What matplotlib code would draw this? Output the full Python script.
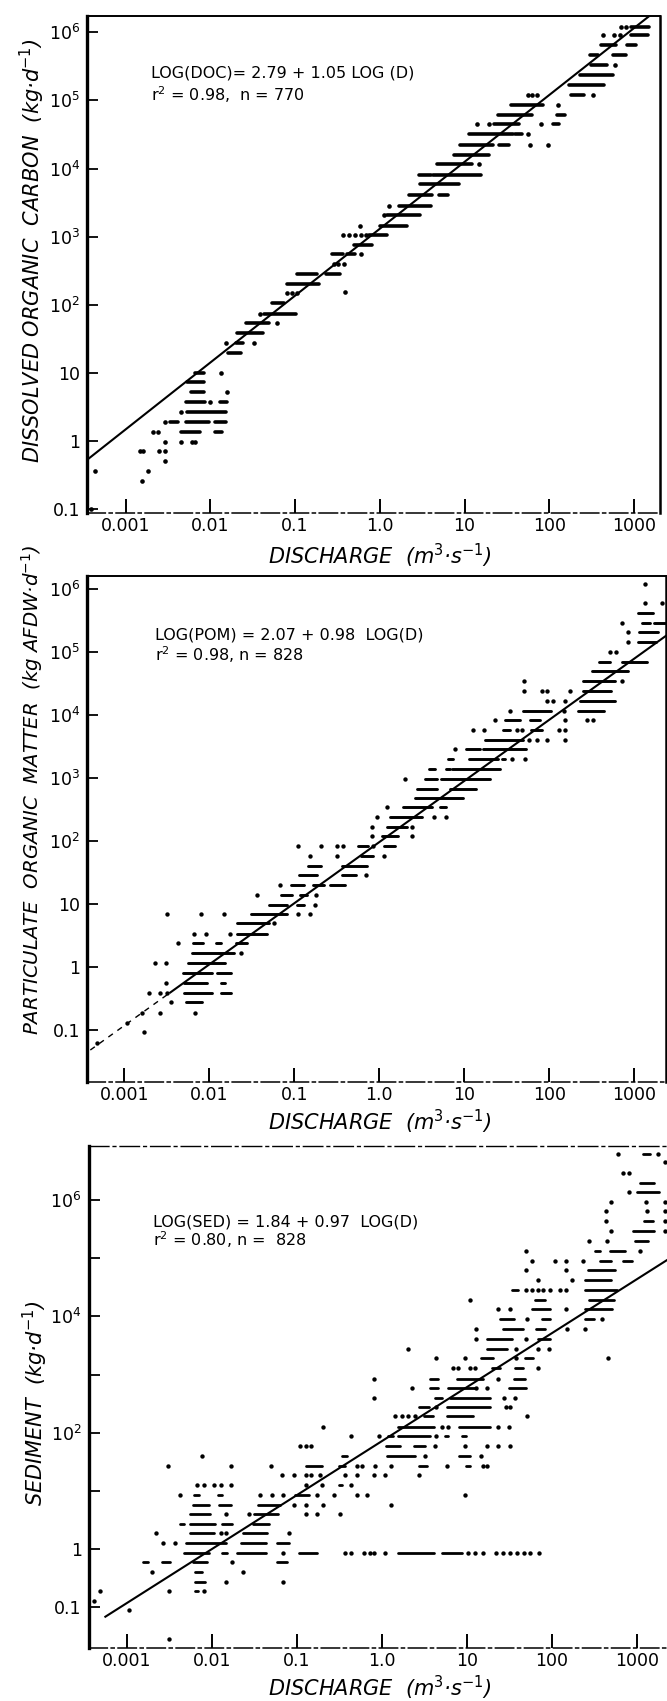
import matplotlib
matplotlib.use("Agg")
import matplotlib.pyplot as plt
import numpy as np

plt.rcParams['font.family'] = ['DejaVu Sans']
plt.rcParams['mathtext.fontset'] = 'dejavusans'

# ---------------------------------------------------------------------------
# DATA  (stored as log10 values)
# dots: one row value + list of discharges on that row
# bars: dense runs of overlapping dots (row value + (from, to) discharge)
# ---------------------------------------------------------------------------
axis_ticks_q = [1e-3, 1e-2, 1e-1, 1.0, 10.0, 100.0, 1000.0]
axis_ticklabels_q = ['0.001', '0.01', '0.1', '1.0', '10', '100', '1000']
axis_ticks_v = [0.1, 1, 10, 1e2, 1e3, 1e4, 1e5, 1e6]
axis_ticklabels_v = ['0.1', '1', '10', '10$^2$', '10$^3$', '10$^4$', '10$^5$', '10$^6$']
sed_ticklabels_v = ['0.1', '1', '', '10$^2$', '', '10$^4$', '', '10$^6$']

# ---- Panel 1 : dissolved organic carbon ----
doc_dot_log_c = [-1.00, -0.59, -0.45, -0.44, -0.29, -0.15, -0.01, 0.13, 0.27, 0.43,
                 0.575, 0.72, 1.00, 1.43, 1.73, 1.87, 2.17, 2.18, 2.60, 2.74,
                 3.03, 3.16, 3.32, 3.45, 4.06, 4.35, 4.50, 4.65, 4.94, 5.08,
                 5.52, 5.96, 6.08]
doc_dot_log_q = [[-3.41], [-2.81], [-3.36], [-2.74], [-2.54],
                 [-2.83, -2.79, -2.61, -2.54], [-2.54, -2.34, -2.22, -2.18],
                 [-2.68, -2.62], [-2.54], [-2.35],
                 [-2.00], [-1.80], [-1.87], [-1.82, -1.48], [-1.21], [-1.41],
                 [-1.09, -1.04, -0.98], [-0.41], [-0.54, -0.49, -0.42], [-0.22],
                 [-0.43, -0.36, -0.29, -0.22, -0.16], [-0.23], [0.05], [0.11], [1.17],
                 [1.77, 1.99], [1.75], [1.15, 1.29, 1.90], [2.10],
                 [1.75, 1.80, 1.86, 2.52], [2.77], [2.63, 2.76, 2.83], [2.84, 2.90]]
doc_bar_log_c = [0.135, 0.27, 0.43, 0.575, 0.72, 0.86, 1.00, 1.285, 1.43, 1.58,
                 1.73, 1.87, 2.02, 2.30, 2.45, 2.74, 2.88, 3.03, 3.16, 3.32,
                 3.45, 3.61, 3.77, 3.91, 4.06, 4.20, 4.35, 4.50, 4.65, 4.79,
                 4.94, 5.08, 5.23, 5.38, 5.52, 5.66, 5.81, 5.96, 6.08]
doc_bar_log_q = [
    [(-2.35, -2.12), (-1.94, -1.86)],
    [(-2.48, -2.38), (-2.29, -2.02), (-1.94, -1.82)],
    [(-2.28, -1.81)],
    [(-2.29, -2.06), (-1.88, -1.80)],
    [(-2.23, -2.07)],
    [(-2.28, -2.07)],
    [(-2.18, -2.07)],
    [(-1.79, -1.64)],
    [(-1.70, -1.62)],
    [(-1.69, -1.38)],
    [(-1.58, -1.31)],
    [(-1.37, -0.99)],
    [(-1.27, -1.13)],
    [(-1.09, -0.72)],
    [(-0.98, -0.74), (-0.64, -0.47)],
    [(-0.56, -0.44), (-0.39, -0.29)],
    [(-0.30, -0.09)],
    [(-0.13, 0.09)],
    [(0.00, 0.32)],
    [(0.09, 0.47)],
    [(0.23, 0.60)],
    [(0.35, 0.62), (0.70, 0.80)],
    [(0.47, 0.93)],
    [(0.46, 0.60), (0.63, 1.19)],
    [(0.68, 1.09)],
    [(0.87, 1.29)],
    [(0.95, 1.33), (1.41, 1.53)],
    [(1.05, 1.57), (1.60, 1.68)],
    [(1.35, 1.64), (2.04, 2.12)],
    [(1.39, 1.80), (2.09, 2.18)],
    [(1.55, 1.92)],
    [(2.25, 2.41)],
    [(2.23, 2.65)],
    [(2.36, 2.75)],
    [(2.49, 2.68)],
    [(2.48, 2.57), (2.75, 2.90)],
    [(2.61, 2.79), (2.92, 3.02)],
    [(2.96, 3.17)],
    [(2.96, 3.18)],
]
doc_fit_log_q = [-3.455, 3.18]
doc_fit_log_c = [-0.28, 6.24]
doc_eq_text = ['LOG(DOC)= 2.79 + 1.05 LOG (D)', 'r$^2$ = 0.98,  n = 770']

# ---- Panel 2 : particulate organic matter ----
pom_dot_log_m = [-1.20, -1.03, -0.88, -0.725, -0.56, -0.41, -0.25, 0.07, 0.23, 0.385,
                 0.53, 0.69, 0.835, 0.99, 1.14, 1.295, 1.454, 1.76, 1.92, 2.07,
                 2.22, 2.38, 2.53, 2.985, 3.30, 3.45, 3.60, 3.76, 3.91, 4.06,
                 4.22, 4.375, 4.53, 4.99, 5.15, 5.31, 5.46, 5.77, 6.07]
pom_dot_log_q = [[-3.32], [-2.77], [-2.97], [-2.79, -2.58, -2.17], [-2.45],
                 [-2.71, -2.58, -2.50], [-2.51], [-2.64, -2.51], [-1.63], [-2.37],
                 [-2.18, -2.04, -1.76], [-1.24], [-2.50, -2.10, -1.83, -0.96, -0.82],
                 [-0.76], [-1.44, -0.75], [-1.17], [-0.16], [-0.82, -0.50, 0.05],
                 [-0.96, -0.69, -0.50, -0.43, -0.07], [-0.09, 0.38],
                 [-0.09, 0.38], [-0.03, 0.64, 0.78], [0.09], [0.30], [1.56, 1.71],
                 [0.89], [1.76, 1.85, 1.97, 2.18], [1.10, 1.23, 1.62, 1.68, 2.11, 2.18],
                 [1.36, 2.18, 2.44, 2.51], [1.54, 2.17],
                 [1.97, 2.04, 2.18], [1.70, 1.91, 1.97, 2.24], [1.70, 2.85],
                 [2.71, 2.79], [2.93], [2.93], [2.85], [3.13, 3.33], [3.13]]
pom_bar_log_m = [-0.56, -0.41, -0.25, -0.09, 0.07, 0.23, 0.385, 0.53, 0.69, 0.835,
                 0.99, 1.14, 1.295, 1.454, 1.60, 1.76, 1.92, 2.07, 2.22, 2.38,
                 2.53, 2.68, 2.83, 2.985, 3.14, 3.30, 3.45, 3.60, 3.76, 3.91,
                 4.06, 4.22, 4.375, 4.53, 4.69, 4.835, 5.15, 5.31, 5.46, 5.61]
pom_bar_log_q = [
    [(-2.27, -2.09)],
    [(-2.30, -1.97), (-1.86, -1.75)],
    [(-2.30, -2.03), (-1.86, -1.81)],
    [(-2.31, -1.97), (-1.91, -1.75)],
    [(-2.25, -1.81)],
    [(-2.20, -1.71)],
    [(-2.19, -2.07), (-1.92, -1.86), (-1.69, -1.56)],
    [(-1.68, -1.32)],
    [(-1.67, -1.30)],
    [(-1.51, -1.09)],
    [(-1.30, -1.09), (-0.97, -0.89)],
    [(-1.16, -1.03), (-0.93, -0.85)],
    [(-1.04, -0.89), (-0.78, -0.65), (-0.58, -0.40)],
    [(-0.95, -0.73), (-0.44, -0.27)],
    [(-0.84, -0.69), (-0.44, -0.15)],
    [(-0.21, -0.07)],
    [(-0.25, -0.13), (0.05, 0.19)],
    [(0.03, 0.22)],
    [(0.09, 0.32)],
    [(0.13, 0.50)],
    [(0.28, 0.62), (0.71, 0.79)],
    [(0.42, 0.99)],
    [(0.44, 0.68), (0.83, 1.14)],
    [(0.54, 0.68), (0.72, 1.30)],
    [(0.59, 0.65), (0.79, 0.83), (0.85, 1.42)],
    [(0.81, 0.87), (1.05, 1.40), (1.44, 1.48)],
    [(1.02, 1.19), (1.22, 1.73)],
    [(1.24, 1.69)],
    [(1.46, 1.54), (1.79, 1.91)],
    [(1.48, 1.65), (1.77, 1.89)],
    [(1.69, 2.02), (2.34, 2.64)],
    [(2.36, 2.77)],
    [(2.40, 2.73)],
    [(2.40, 2.77)],
    [(2.50, 2.93)],
    [(2.58, 2.71), (2.86, 3.15)],
    [(3.04, 3.26)],
    [(3.05, 3.28)],
    [(3.09, 3.19), (3.23, 3.36)],
    [(3.04, 3.22)],
]
pom_fit_log_q = [-3.40, -2.46, 3.38]
pom_fit_log_m = [-1.316, -0.405, 5.258]
pom_eq_text = ['LOG(POM) = 2.07 + 0.98  LOG(D)', 'r$^2$ = 0.98, n = 828']

# ---- Panel 3 : sediment ----
sed_dot_log_s = [-1.55, -1.05, -0.89, -0.725, -0.565, -0.40, -0.23, -0.06, 0.10, 0.27,
                 0.60, 0.76, 0.93, 1.10, 1.27, 1.43, 1.60, 1.77, 1.945, 2.10,
                 2.28, 2.44, 2.60, 2.77, 2.93, 3.12, 3.29, 3.44, 3.62, 3.78,
                 3.95, 4.12, 4.28, 4.45, 4.62, 4.79, 4.95, 5.12, 5.29, 5.47,
                 5.64, 5.81, 5.97, 6.14, 6.47, 6.66, 6.80]
sed_dot_log_q = [
    [-2.51], [-2.98], [-3.39], [-3.32, -2.51, -2.10], [-1.83, -1.16],
    [-2.71, -1.64], [-1.77],
    [-1.16, -0.43, -0.37, -0.21, -0.14, -0.09, 0.04, 1.01, 1.09, 1.19, 1.34,
     1.42, 1.51, 1.59, 1.67, 1.74, 1.85],
    [-2.58, -2.43], [-2.66, -1.90, -1.84, -1.10],
    [-1.84, -1.57, -0.90, -0.77, -0.49],
    [-1.03, -0.90, -0.69, 0.11],
    [-2.38, -1.44, -1.30, -1.17, -0.77, -0.57, -0.30, -0.18, 0.98],
    [-2.18, -2.10, -1.98, -1.90, -1.78, -0.90, -0.71, -0.37],
    [-1.18, -1.04, -0.90, -0.84, -0.73, -0.43, -0.30, -0.10, 0.04, 0.43],
    [-2.52, -1.78, -1.31, -0.30, -0.24, -0.08, 0.10, 0.77, 1.19, 1.24],
    [-2.12, 0.51, 1.17],
    [-0.97, -0.90, -0.84, 0.62, 0.98, 1.23, 1.36, 1.51],
    [-0.37, -0.03, 0.64],
    [-0.69, 0.70, 0.78, 1.36, 1.49],
    [0.15, 0.23, 0.31, 0.39, 1.71],
    [0.64, 1.46, 1.51],
    [-0.10, 1.44, 1.56],
    [0.35, 1.11, 1.24],
    [-0.10, 1.37],
    [0.83, 0.89, 1.03, 1.09, 1.84],
    [0.64, 0.98, 1.58, 2.66],
    [0.30, 1.58, 1.84, 1.97],
    [1.11, 1.70],
    [1.11, 2.18, 2.39],
    [1.71, 2.59],
    [1.37, 1.51, 2.17],
    [1.03],
    [1.69, 1.76, 1.83, 1.90, 1.98, 2.10, 2.17],
    [1.83, 2.24],
    [1.70, 2.17],
    [1.77, 2.04, 2.17, 2.37],
    [1.69, 3.04],
    [2.44, 2.65],
    [2.70, 3.33],
    [2.64, 3.33],
    [2.64, 3.12, 3.33],
    [2.70, 3.11, 3.33],
    [2.91],
    [2.83, 2.91],
    [3.33],
    [2.78, 3.25],
]
sed_bar_log_s = [-0.725, -0.565, -0.40, -0.23, -0.06, 0.10, 0.27, 0.44, 0.60, 0.76,
                 0.93, 1.10, 1.43, 1.60, 1.77, 1.945, 2.10, 2.28, 2.44, 2.60,
                 2.77, 2.93, 3.12, 3.29, 3.44, 3.62, 3.78, 3.95, 4.12, 4.28,
                 4.45, 4.62, 4.79, 4.95, 5.12, 5.29, 5.47, 5.64, 6.14, 6.30, 6.80]
sed_bar_log_q = [
    [(-2.20, -2.16)],
    [(-2.20, -2.08)],
    [(-2.20, -2.12)],
    [(-2.81, -2.75), (-2.59, -2.49), (-2.22, -2.06), (-1.24, -1.12)],
    [(-2.33, -2.04), (-1.88, -1.82), (-1.71, -1.37), (-0.98, -0.77), (0.19, 0.61), (0.71, 0.94)],
    [(-2.31, -1.84), (-1.66, -1.37), (-1.24, -1.10)],
    [(-2.26, -1.98), (-1.63, -1.35)],
    [(-2.38, -2.33), (-2.26, -1.96), (-1.88, -1.77), (-1.52, -1.33)],
    [(-2.26, -2.02), (-1.51, -1.22)],
    [(-2.22, -2.03), (-1.92, -1.78), (-1.46, -1.20)],
    [(-2.21, -2.15), (-1.93, -1.88), (-1.02, -0.86)],
    [(-0.51, -0.47)],
    [(-0.90, -0.71), (-0.51, -0.43), (0.43, 0.53), (0.99, 1.04)],
    [(-0.47, -0.41), (0.06, 0.39), (0.91, 1.03)],
    [(0.05, 0.21), (0.38, 0.50)],
    [(0.07, 0.13), (0.19, 0.57), (0.74, 0.78), (0.94, 0.99)],
    [(0.19, 0.61), (0.90, 1.27)],
    [(0.49, 0.60), (0.76, 1.07)],
    [(0.44, 0.55), (0.76, 1.27)],
    [(0.62, 0.70), (0.80, 1.27)],
    [(0.57, 0.66), (0.78, 1.09), (1.49, 1.70)],
    [(0.57, 0.66), (0.88, 1.19), (1.55, 1.68)],
    [(1.29, 1.39), (1.57, 1.66)],
    [(1.17, 1.31), (1.68, 1.78)],
    [(1.23, 1.47)],
    [(1.23, 1.53), (1.84, 1.98)],
    [(1.42, 1.66), (1.81, 1.92)],
    [(1.39, 1.55), (1.88, 1.98), (2.39, 2.49)],
    [(1.76, 1.98), (2.39, 2.71)],
    [(1.80, 1.92), (2.44, 2.73)],
    [(1.53, 1.60), (2.39, 2.76)],
    [(2.39, 2.70)],
    [(2.42, 2.74)],
    [(2.57, 2.70), (2.84, 2.94)],
    [(2.51, 2.57), (2.68, 2.86)],
    [(2.98, 3.13)],
    [(2.95, 3.20)],
    [(3.08, 3.19)],
    [(3.00, 3.26)],
    [(3.04, 3.20)],
    [(3.07, 3.15)],
]
sed_fit_log_q = [-3.255, 3.349]
sed_fit_log_s = [-1.162, 4.965]
sed_eq_text = ['LOG(SED) = 1.84 + 0.97  LOG(D)', 'r$^2$ = 0.80, n =  828']

# ---------------------------------------------------------------------------
W, H = 667, 1701
fig = plt.figure(figsize=(W / 100, H / 100), dpi=100)


def box(l, t, r, b):
    return [l / W, 1 - b / H, (r - l) / W, (b - t) / H]


def fx(px):
    return px / W


def fy(py):
    return 1 - py / H


def expand_dots(vals, rows):
    xs, ys = [], []
    for v, row in zip(vals, rows):
        for q in row:
            xs.append(q)
            ys.append(v)
    return 10 ** np.array(xs), 10 ** np.array(ys)


def expand_bars(vals, rows):
    y, x0, x1 = [], [], []
    for v, row in zip(vals, rows):
        for a, b in row:
            y.append(v)
            x0.append(a)
            x1.append(b)
    return 10 ** np.array(y), 10 ** np.array(x0), 10 ** np.array(x1)


def panel(ax, dot_v, dot_q, bar_v, bar_q, bar_lw, dot_s, xlim, ylim, ylabels):
    ax.set_xscale('log')
    ax.set_yscale('log')
    by, bx0, bx1 = expand_bars(bar_v, bar_q)
    ax.hlines(by, bx0, bx1, colors='black', linewidth=bar_lw, capstyle='round', zorder=3)
    dx, dy = expand_dots(dot_v, dot_q)
    ax.scatter(dx, dy, s=dot_s, c='black', linewidths=0, zorder=3)
    ax.set_xlim(10 ** xlim[0], 10 ** xlim[1])
    ax.set_ylim(10 ** ylim[0], 10 ** ylim[1])
    ax.set_xticks(axis_ticks_q)
    ax.set_xticklabels(axis_ticklabels_q)
    ax.set_yticks(axis_ticks_v)
    ax.set_yticklabels(ylabels)
    ax.minorticks_off()
    ax.tick_params(axis='x', direction='in', length=10, width=1.4, labelsize=12.5, pad=3)
    ax.tick_params(axis='y', direction='in', length=8, width=1.3, labelsize=12.5, pad=5)
    ax.spines['left'].set_linewidth(2.4)
    ax.spines['bottom'].set_linewidth(1.1)
    ax.spines['bottom'].set_linestyle((0, (12, 2.5, 2, 2.5)))
    ax.spines['top'].set_linewidth(1.4)
    ax.spines['right'].set_linewidth(1.8)
    ax.set_facecolor('white')


# Panel 1
ax1 = fig.add_axes(box(87, 16, 660, 513))
panel(ax1, doc_dot_log_c, doc_dot_log_q, doc_bar_log_c, doc_bar_log_q, 2.6, 11,
      (-3.455, 3.306), (-1.06, 6.24), axis_ticklabels_v)
ax1.plot(10 ** np.array(doc_fit_log_q), 10 ** np.array(doc_fit_log_c), color='black', lw=1.5, zorder=4)

# Panel 2
ax2 = fig.add_axes(box(87, 576, 666, 1082))
panel(ax2, pom_dot_log_m, pom_dot_log_q, pom_bar_log_m, pom_bar_log_q, 2.1, 10,
      (-3.439, 3.373), (-1.823, 6.199), axis_ticklabels_v)
ax2.plot(10 ** np.array(pom_fit_log_q[:2]), 10 ** np.array(pom_fit_log_m[:2]), color='black',
         lw=1.0, linestyle=(0, (4, 4)), zorder=4)
ax2.plot(10 ** np.array(pom_fit_log_q[1:]), 10 ** np.array(pom_fit_log_m[1:]), color='black', lw=1.5, zorder=4)

# Panel 3
ax3 = fig.add_axes(box(88.7, 1146, 672, 1648))
panel(ax3, sed_dot_log_s, sed_dot_log_q, sed_bar_log_s, sed_bar_log_q, 2.0, 10,
      (-3.451, 3.412), (-1.70, 6.93), sed_ticklabels_v)
ax3.spines['top'].set_linewidth(1.0)
ax3.spines['top'].set_linestyle((0, (14, 3, 2, 3)))
ax3.plot(10 ** np.array(sed_fit_log_q), 10 ** np.array(sed_fit_log_s), color='black', lw=1.5, zorder=4)

# Axis labels (italic lettering)
lab = dict(style='italic', color='black', ha='center', va='center')
fig.text(fx(32), fy(251), 'DISSOLVED ORGANIC  CARBON  (kg·d$^{-1}$)', rotation=90, fontsize=15, **lab)
fig.text(fx(32), fy(790), 'PARTICULATE  ORGANIC  MATTER  (kg AFDW·d$^{-1}$)', rotation=90, fontsize=14.2, **lab)
fig.text(fx(35), fy(1403), 'SEDIMENT  (kg·d$^{-1}$)', rotation=90, fontsize=15, **lab)
for yy in (556, 1122, 1688):
    fig.text(fx(380), fy(yy), 'DISCHARGE  (m$^{3}$·s$^{-1}$)', fontsize=15, **lab)

# Regression annotations
for txt, x0, y0, dy in ((doc_eq_text, 151, 73, 22), (pom_eq_text, 155, 635, 20), (sed_eq_text, 153, 1222, 18)):
    fig.text(fx(x0), fy(y0), txt[0], fontsize=11.5, ha='left', va='center')
    fig.text(fx(x0), fy(y0 + dy), txt[1], fontsize=11.5, ha='left', va='center')

fig.savefig('out.png', dpi=100, facecolor='white')
